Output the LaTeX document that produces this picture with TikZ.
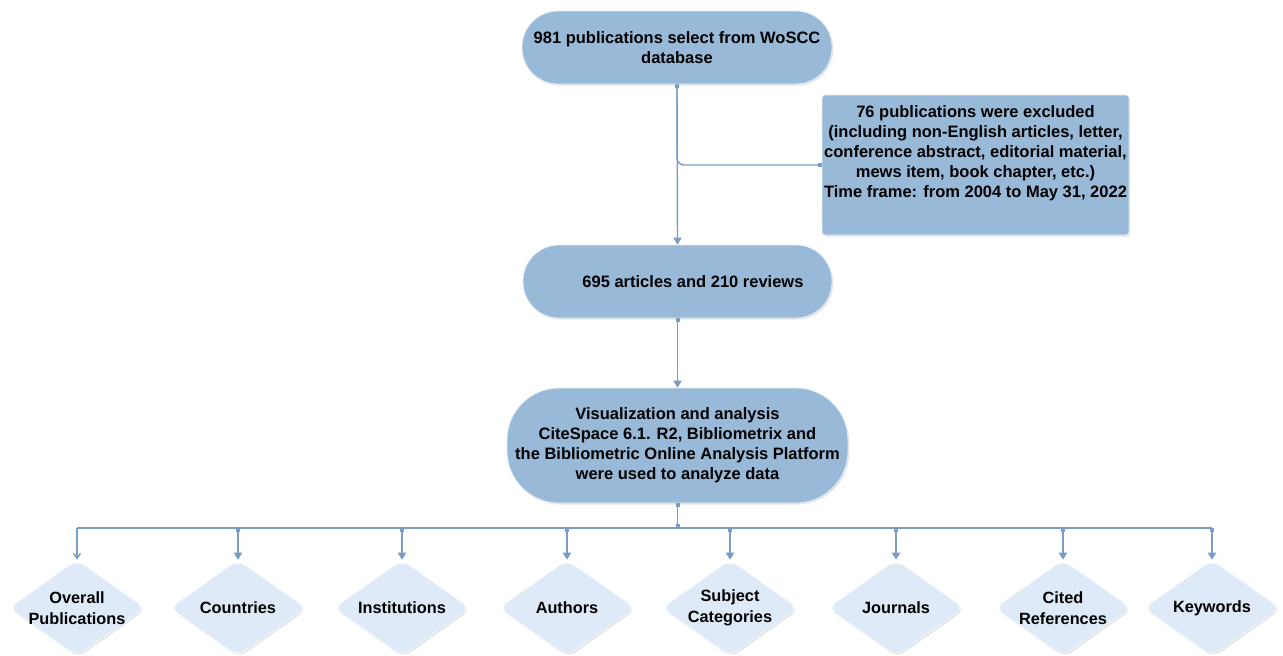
\documentclass[tikz,border=0pt]{standalone}
\usepackage{fontspec}
\setmainfont{Liberation Sans}
\usetikzlibrary{arrows.meta,shapes.geometric,shadows}
\definecolor{boxblue}{RGB}{152,185,215}
\definecolor{diafill}{RGB}{222,234,247}
\definecolor{linec}{RGB}{122,158,194}
\begin{document}
\begin{tikzpicture}[x=1pt,y=-1pt,
  every node/.style={font=\bfseries\fontsize{16.5}{20}\selectfont, align=center, text=black},
  softshadow/.style={drop shadow={shadow xshift=1.2pt, shadow yshift=-1.5pt, opacity=0.22, fill=gray}},
  pill/.style={fill=boxblue, draw=white!75!boxblue, line width=0.8pt, inner sep=0pt, softshadow},
  diam/.style={diamond, fill=diafill, draw=white!60!diafill, line width=0.8pt, inner sep=0pt,
    minimum width=136pt, minimum height=96pt, rounded corners=9pt, softshadow},
  dlabel/.style={font=\bfseries\fontsize{16.3}{21}\selectfont, align=center},
  line/.style={draw=linec, line width=1.4pt},
  conn/.style={line, {Square[length=4pt,width=4pt]}-{Triangle[length=7pt,width=8.5pt]}},
]
\useasboundingbox (0,0) rectangle (1283,656);

% main boxes
\node[pill, minimum width=310pt, minimum height=73pt, rounded corners=36pt] (top) at (677,47.5)
  {981 publications select from WoSCC\\database};
\node[pill, rounded corners=3pt, minimum width=307pt, minimum height=140pt] (excl) at (975.5,165)
  {76 publications were excluded\\(including non-English articles, letter,\\conference abstract, editorial material,\\mews item, book chapter, etc.)\\Time frame: from 2004 to May 31, 2022\\ \strut};
\node[pill, minimum width=309pt, minimum height=73pt, rounded corners=36pt] (mid) at (677.5,281.5) {};
\node at (693,281.5) (midtext) {695 articles and 210 reviews};
\node[pill, minimum width=341pt, minimum height=115pt, rounded corners=52pt] (viz) at (677.5,445.5)
  {Visualization and analysis\\CiteSpace 6.1. R2, Bibliometrix and\\the Bibliometric Online Analysis Platform\\were used to analyze data};

% diamonds
\node[diam, label={[dlabel]center:Overall\\Publications}] (d1) at (77,608) {};
\node[diam, label={[dlabel]center:Countries}] (d2) at (238,608) {};
\node[diam, label={[dlabel]center:Institutions}] (d3) at (402,608) {};
\node[diam, label={[dlabel]center:Authors}] (d4) at (567,608) {};
\node[diam, label={[dlabel]center:Subject\\Categories}] (d5) at (730,608) {};
\node[diam, label={[dlabel]center:Journals}] (d6) at (896,608) {};
\node[diam, label={[dlabel]center:Cited\\References}] (d7) at (1063,608) {};
\node[diam, label={[dlabel]center:Keywords}] (d8) at (1212,608) {};

% connectors
\draw[conn] (top.south) -- (mid.north);
\draw[line, rounded corners=7pt, -{Square[length=4pt,width=4pt]}] (top.south) |- (excl.west);
\draw[conn] (mid.south) -- (viz.north);
\coordinate (bus) at (677.5,528);
\draw[line, {Square[length=4pt,width=4pt]}-{Square[length=4pt,width=4pt]}] (viz.south) -- (bus);
\draw[line] (d1.north |- bus) -- (d8.north |- bus);
\draw[line, -{Straight Barb[length=5pt,width=7pt]}] (d1.north |- bus) -- (d1.north);
\foreach \i in {2,...,8}{
  \draw[conn] (d\i.north |- bus) -- (d\i.north);
}
\end{tikzpicture}
\end{document}
